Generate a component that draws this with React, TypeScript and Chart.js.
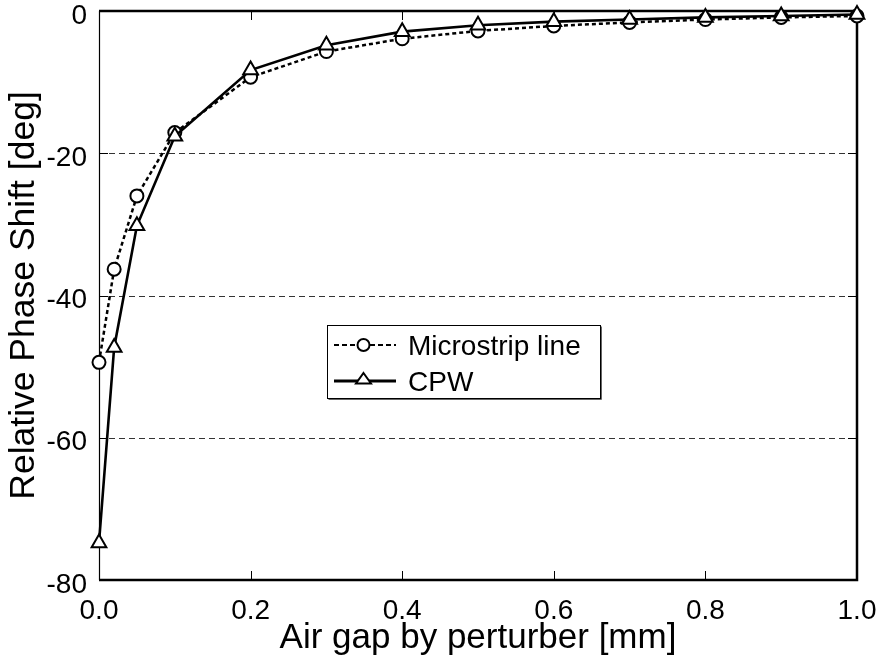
import React, { useEffect, useRef } from 'react';
import { Chart, registerables } from 'chart.js';

Chart.register(...registerables);

// ---- data ----
const airGap = [0, 0.02, 0.05, 0.1, 0.2, 0.3, 0.4, 0.5, 0.6, 0.7, 0.8, 0.9, 1.0];
const microstrip = [-49.4, -36.3, -26.0, -17.1, -9.3, -5.7, -3.9, -2.8, -2.1, -1.6, -1.2, -0.9, -0.7];
const cpw = [-74.8, -47.3, -30.2, -17.6, -8.3, -4.8, -2.9, -2.0, -1.5, -1.2, -0.9, -0.7, -0.5];
const xTickValues = [0, 0.2, 0.4, 0.6, 0.8, 1.0];
const yTickValues = [0, -20, -40, -60, -80];
const seriesNames = ['Microstrip line', 'CPW'];
const xTitle = 'Air gap by perturber [mm]';
const yTitle = 'Relative Phase Shift [deg]';

const FONT = '"Liberation Sans", Arial, Helvetica, sans-serif';

const framePlugin = {
  id: 'frameAndLegend',
  beforeDatasetsDraw(chart: any) {
    const { ctx, chartArea, scales } = chart;
    const { left, right, top, bottom } = chartArea;
    const xs = scales.x;
    const ys = scales.y;
    ctx.save();
    // dashed horizontal grid lines
    ctx.strokeStyle = '#333';
    ctx.lineWidth = 1;
    ctx.setLineDash([6, 4]);
    ctx.beginPath();
    yTickValues.forEach((v) => {
      if (v === 0 || v === -80) return;
      const py = Math.round(ys.getPixelForValue(v)) + 0.5;
      ctx.moveTo(left, py);
      ctx.lineTo(right, py);
    });
    ctx.stroke();
    ctx.setLineDash([]);
    // inward tick marks
    ctx.strokeStyle = '#000';
    ctx.beginPath();
    xTickValues.forEach((v) => {
      if (v <= 0 || v >= 1) return;
      const px = Math.round(xs.getPixelForValue(v)) + 0.5;
      ctx.moveTo(px, bottom);
      ctx.lineTo(px, bottom - 9);
      ctx.moveTo(px, top);
      ctx.lineTo(px, top + 9);
    });
    yTickValues.forEach((v) => {
      if (v === 0 || v === -80) return;
      const py = Math.round(ys.getPixelForValue(v)) + 0.5;
      ctx.moveTo(left, py);
      ctx.lineTo(left + 9, py);
      ctx.moveTo(right, py);
      ctx.lineTo(right - 9, py);
    });
    ctx.stroke();
    // frame
    ctx.lineWidth = 2.5;
    ctx.beginPath();
    ctx.moveTo(left, top);
    ctx.lineTo(right, top);
    ctx.lineTo(right, bottom);
    ctx.lineTo(left, bottom);
    ctx.stroke();
    ctx.lineWidth = 1.2;
    ctx.beginPath();
    ctx.moveTo(left + 0.5, top);
    ctx.lineTo(left + 0.5, bottom);
    ctx.stroke();
    ctx.restore();
  },
  afterDraw(chart: any) {
    const { ctx } = chart;
    ctx.save();
    const bx = 327.5, by = 325.5, bw = 273, bh = 73;
    ctx.fillStyle = '#fff';
    ctx.fillRect(bx, by, bw, bh);
    ctx.strokeStyle = '#000';
    ctx.lineWidth = 1;
    ctx.strokeRect(bx, by, bw, bh);
    ctx.strokeStyle = '#666';
    ctx.beginPath();
    ctx.moveTo(bx + 1, by + bh + 1);
    ctx.lineTo(bx + bw + 1, by + bh + 1);
    ctx.lineTo(bx + bw + 1, by + 1);
    ctx.stroke();
    ctx.strokeStyle = '#000';

    // Microstrip sample
    const y1 = 345, y2 = 381;
    ctx.lineWidth = 2;
    ctx.setLineDash([5, 3]);
    ctx.beginPath();
    ctx.moveTo(334, y1);
    ctx.lineTo(357, y1);
    ctx.moveTo(370, y1);
    ctx.lineTo(396, y1);
    ctx.stroke();
    ctx.setLineDash([]);
    ctx.lineWidth = 2;
    ctx.beginPath();
    ctx.arc(363.5, y1, 6, 0, Math.PI * 2);
    ctx.fillStyle = '#fff';
    ctx.fill();
    ctx.stroke();

    // CPW sample
    ctx.lineWidth = 3;
    ctx.beginPath();
    ctx.moveTo(334, y2);
    ctx.lineTo(396, y2);
    ctx.stroke();
    ctx.lineWidth = 2;
    ctx.beginPath();
    ctx.moveTo(363.5, y2 - 8);
    ctx.lineTo(371, y2 + 2.5);
    ctx.lineTo(356, y2 + 2.5);
    ctx.closePath();
    ctx.fillStyle = '#fff';
    ctx.fill();
    ctx.stroke();

    ctx.fillStyle = '#000';
    ctx.font = `28px ${FONT}`;
    ctx.textAlign = 'left';
    ctx.textBaseline = 'alphabetic';
    ctx.fillText(seriesNames[0], 408, 355);
    ctx.fillText(seriesNames[1], 408, 391);
    ctx.restore();
  },
};

export default function App() {
  const ref = useRef<HTMLCanvasElement | null>(null);

  useEffect(() => {
    if (!ref.current) return;
    const chart = new Chart(ref.current, {
      type: 'line',
      data: {
        datasets: [
          {
            label: seriesNames[0],
            data: airGap.map((x, i) => ({ x, y: microstrip[i] })),
            borderColor: '#000',
            borderWidth: 2.5,
            borderDash: [4, 3],
            pointStyle: 'circle',
            pointRadius: 6.5,
            pointBorderWidth: 2,
            pointBackgroundColor: '#fff',
            pointBorderColor: '#000',
            fill: false,
            tension: 0,
            clip: false as any,
            order: 1,
          },
          {
            label: seriesNames[1],
            data: airGap.map((x, i) => ({ x, y: cpw[i] })),
            borderColor: '#000',
            borderWidth: 2.6,
            pointStyle: 'triangle',
            pointRadius: 8.5,
            pointBorderWidth: 2,
            pointBackgroundColor: '#fff',
            pointBorderColor: '#000',
            fill: false,
            tension: 0,
            clip: false as any,
            order: 0,
          },
        ],
      },
      options: {
        responsive: false,
        animation: false,
        devicePixelRatio: 1,
        layout: { padding: { top: 11, right: 21, left: 0, bottom: 0 } },
        plugins: { legend: { display: false }, tooltip: { enabled: false } },
        scales: {
          x: {
            type: 'linear',
            min: 0,
            max: 1,
            afterBuildTicks: (axis: any) => {
              axis.ticks = xTickValues.map((v) => ({ value: v }));
            },
            afterFit: (axis: any) => {
              axis.height = 80;
              axis.paddingLeft = 0;
              axis.paddingRight = 0;
            },
            grid: { display: false, drawTicks: false },
            border: { display: false },
            ticks: {
              color: '#000',
              font: { family: FONT, size: 28 },
              padding: 14,
              maxRotation: 0,
              autoSkip: false,
              callback: (v: any) => Number(v).toFixed(1),
            },
            title: {
              display: true,
              text: xTitle,
              color: '#000',
              font: { family: FONT, size: 35 },
              padding: { top: 0, bottom: 1 },
            },
          },
          y: {
            type: 'linear',
            min: -80,
            max: 0,
            afterBuildTicks: (axis: any) => {
              axis.ticks = yTickValues.map((v) => ({ value: v }));
            },
            afterFit: (axis: any) => {
              axis.width = 99;
              axis.paddingTop = 0;
              axis.paddingBottom = 0;
            },
            grid: { display: false, drawTicks: false },
            border: { display: false },
            ticks: {
              color: '#000',
              font: { family: FONT, size: 28 },
              padding: 12,
              labelOffset: 5,
              autoSkip: false,
              callback: (v: any) => String(v),
            },
            title: {
              display: true,
              text: yTitle,
              color: '#000',
              font: { family: FONT, size: 35.5 },
              padding: { top: 3, bottom: 0 },
            },
          },
        },
      },
      plugins: [framePlugin],
    });
    return () => chart.destroy();
  }, []);

  return (
    <div style={{ position: 'fixed', left: 0, top: 0, width: 878, height: 660, background: '#fff' }}>
      <canvas ref={ref} width={878} height={660} style={{ display: 'block', width: 878, height: 660 }} />
    </div>
  );
}
